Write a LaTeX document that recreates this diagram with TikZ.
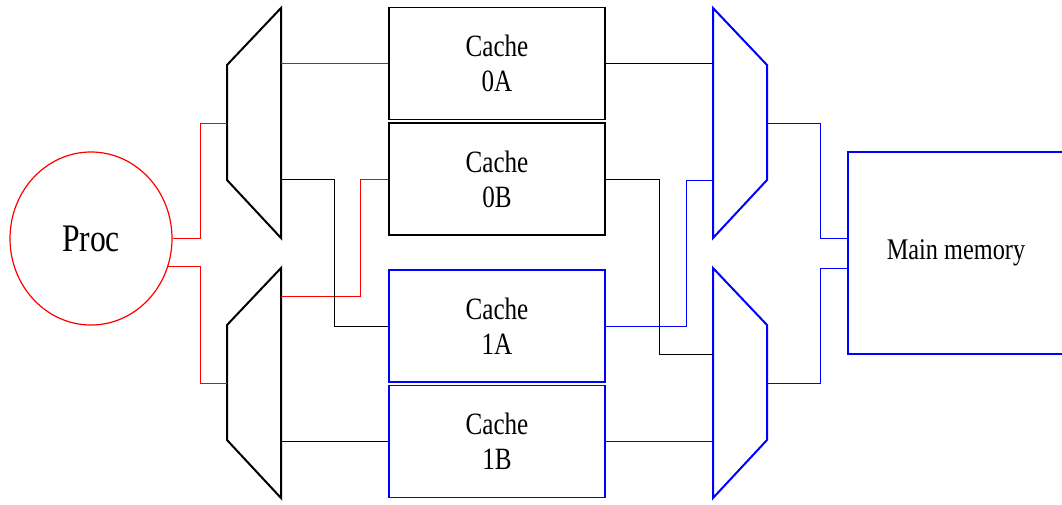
\documentclass[tikz,border=0pt]{standalone}
\usepackage{fontspec}
\setmainfont{Liberation Serif}[FakeStretch=0.81]
\usepackage{tikz}
\usetikzlibrary{shapes.geometric,calc}

\begin{document}
\begin{tikzpicture}[x=1pt,y=-1pt,
  cache/.style={draw,line width=1.2pt,minimum width=216pt,minimum height=112pt,inner sep=0pt,align=center,font=\fontsize{31}{35}\selectfont},
  mux/.style={line width=2pt,line join=miter},
  wire/.style={line width=1pt}]
\useasboundingbox (0,0) rectangle (1062,504);
\node[draw=red,line width=1.2pt,ellipse,minimum width=162pt,minimum height=173pt,inner sep=0pt,font=\fontsize{39}{40}\selectfont] (proc) at (91,238.5) {Proc};
\node[cache] (c0a) at (497,63.5) {Cache\\0A};
\node[cache] (c0b) at (497,179) {Cache\\0B};
\node[cache,draw=blue] (c1a) at (497,326) {Cache\\1A};
\node[cache,draw=blue] (c1b) at (497,441.5) {Cache\\1B};
\node[draw=blue,line width=1.2pt,minimum width=216pt,minimum height=202pt,font=\fontsize{30}{34}\selectfont] (mem) at (956,253) {Main memory};
% multiplexers
\draw[mux] (227,65) -- (281,8) -- (281,238) -- (227,180) -- cycle;
\draw[mux] (227,325) -- (281,268) -- (281,498) -- (227,440) -- cycle;
\draw[mux,blue] (713,8) -- (767,65) -- (767,180) -- (713,238) -- cycle;
\draw[mux,blue] (713,268) -- (767,325) -- (767,440) -- (713,498) -- cycle;
\coordinate (lmR) at (281,0);
\coordinate (rmL) at (713,0);
\coordinate (lm0-in) at (227,123);
\coordinate (lm1-in) at (227,383);
\coordinate (lm1-o0) at (281,296);
\coordinate (rm0-in1) at (713,180);
\coordinate (rm1-in0) at (713,354);
\coordinate (rm0-out) at (767,123);
\coordinate (rm1-out) at (767,383);
% processor side
\draw[wire,red] (proc.east) -- ++(28,0) |- (lm0-in);
\draw[wire,red] (proc.-20) -| ([xshift=-27pt]lm1-in) -- (lm1-in);
\draw[wire,red] (c0a.west -| lmR) -- (c0a.west);
\draw[wire,red] (lm1-o0) -| ([xshift=-28pt]c0b.west) -- (c0b.west);
\draw[wire] (lmR |- c0b.west) -| ([xshift=-54pt]c1a.west) -- (c1a.west);
\draw[wire] (lmR |- c1b.west) -- (c1b.west);
% memory side
\draw[wire] (c0a.east) -- (c0a.east -| rmL);
\draw[wire] (c0b.east) -- ++(54,0) |- (rm1-in0);
\draw[wire,blue] (c1a.east) -- ++(81,0) |- (rm0-in1);
\draw[wire,blue] (c1b.east) -- (c1b.east -| rmL);
\draw[wire,blue] (rm0-out) -| ([xshift=-27pt,yshift=15pt]mem.west) -- ([yshift=15pt]mem.west);
\draw[wire,blue] (rm1-out) -| ([xshift=-27pt,yshift=-15pt]mem.west) -- ([yshift=-15pt]mem.west);
\end{tikzpicture}
\end{document}
